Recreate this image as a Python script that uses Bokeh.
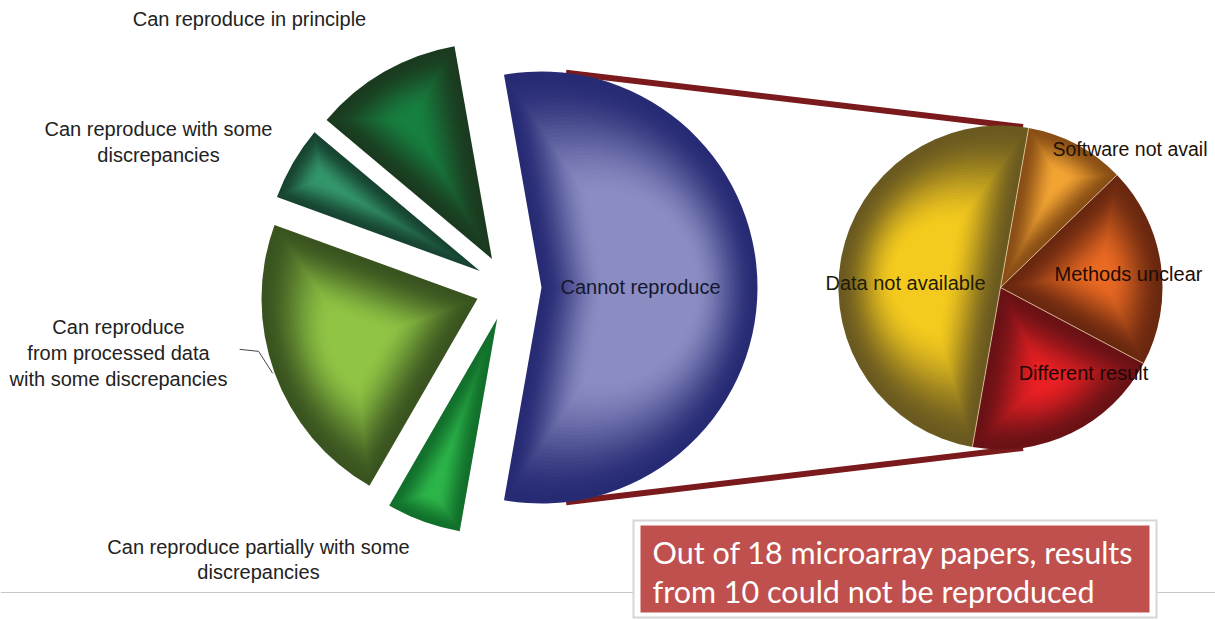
import numpy as np
from bokeh.plotting import figure
from bokeh.models import Label, BoxAnnotation, Span, ColumnDataSource, Range1d
from bokeh.embed import file_html
from bokeh.resources import INLINE

W, H = 1215, 620

# Outcome of the reproduction attempts (number of papers, 18 in total)
outcomes = [
    "Cannot reproduce",
    "Can reproduce in principle",
    "Can reproduce with some discrepancies",
    "Can reproduce from processed data with some discrepancies",
    "Can reproduce partially with some discrepancies",
]
outcome_counts = [10, 2, 1, 4, 1]
outcome_edge = ["#272b74", "#1b3b20", "#184532", "#3a5420", "#12702c"]
outcome_core = ["#8a8cc2", "#178040", "#33956a", "#8fc444", "#2db54a"]

# Why the 10 papers could not be reproduced
reasons = ["Software not available", "Data not available", "Different result", "Methods unclear"]
reason_counts = [1, 5, 2, 2]
reason_edge = ["#8a4f16", "#6b5a20", "#6a1216", "#6a2810"]
reason_core = ["#f2a433", "#f4ca1e", "#e82024", "#ea6a22"]

# layout (data units equal pixels)
L_CX, L_CY, L_R, L_EXPLODE, L_START = 508.0, 333.0, 216.0, 33.0, -100.0
R_CX, R_CY, R_R, R_START = 1000.0, 333.0, 162.0, 44.0


def angles(counts, start):
    total = float(sum(counts))
    spans = [360.0 * c / total for c in counts]
    a0 = start + np.concatenate([[0.0], np.cumsum(spans)[:-1]])
    return list(a0), list(a0 + np.array(spans))


def hex_rgb(h):
    h = h.lstrip("#")
    return np.array([int(h[i:i + 2], 16) for i in (0, 2, 4)], dtype=float)


def mix(c0, c1, f):
    c = hex_rgb(c0) * (1 - f) + hex_rgb(c1) * f
    return "#%02x%02x%02x" % tuple(int(round(v)) for v in c)


def pillow(cx, cy, radius, starts, ends, explode, edges, cores, depth, steps=34):
    """Nested wedges, each inset a little further, for a soft embossed fill."""
    cols = dict(x=[], y=[], r=[], a0=[], a1=[], color=[])
    for a0, a1, ce, cc in zip(starts, ends, edges, cores):
        mid = np.radians((a0 + a1) / 2)
        half = np.radians((a1 - a0) / 2)
        sh = max(np.sin(half), 0.05)
        t_max = radius / (1 + 1 / sh)
        d = min(depth, 0.9 * t_max)
        ux, uy = np.cos(mid), np.sin(mid)
        for k in range(steps):
            u = k / (steps - 1)
            t = d * u
            s = t / sh
            rr = radius - t - s
            if rr <= 0.5:
                break
            f = u * u * (3 - 2 * u)
            cols["x"].append(cx + (explode + s) * ux)
            cols["y"].append(cy + (explode + s) * uy)
            cols["r"].append(rr)
            cols["a0"].append(a0)
            cols["a1"].append(a1)
            cols["color"].append(mix(ce, cc, f))
    return ColumnDataSource(cols)


p = figure(width=W, height=H, x_range=Range1d(0, W), y_range=Range1d(0, H),
           output_backend="svg", toolbar_location=None, min_border=0,
           x_axis_location=None, y_axis_location=None)
p.grid.visible = False
p.outline_line_color = None
p.background_fill_color = "white"
p.border_fill_color = "white"

# thin rule under the caption
p.add_layout(Span(location=28, dimension="width", line_color="#c8c8c8", line_width=1.2))

l_a0, l_a1 = angles(outcome_counts, L_START)
r_a0, r_a1 = angles(reason_counts, R_START)

# connectors from the "Cannot reproduce" slice to the breakdown pie
bx = L_CX + L_EXPLODE * np.cos(np.radians((l_a0[0] + l_a1[0]) / 2))
by = L_CY + L_EXPLODE * np.sin(np.radians((l_a0[0] + l_a1[0]) / 2))
for sgn in (1, -1):
    x0 = bx + L_R * np.cos(np.radians(84)) + 2
    y0 = by + sgn * L_R * np.sin(np.radians(84))
    x1 = R_CX + R_R * np.cos(np.radians(82))
    y1 = R_CY + sgn * R_R * np.sin(np.radians(82))
    p.line([x0, x1], [y0, y1], line_color="#7a1a1c", line_width=6)

left_src = pillow(L_CX, L_CY, L_R, l_a0, l_a1, L_EXPLODE, outcome_edge, outcome_core, depth=62)
p.wedge(x="x", y="y", radius="r", start_angle="a0", end_angle="a1", start_angle_units="deg",
        end_angle_units="deg", fill_color="color", line_color=None, source=left_src)

right_src = pillow(R_CX, R_CY, R_R, r_a0, r_a1, 0.0, reason_edge, reason_core, depth=55)
p.wedge(x="x", y="y", radius="r", start_angle="a0", end_angle="a1", start_angle_units="deg",
        end_angle_units="deg", fill_color="color", line_color=None, source=right_src)

# light separators between the breakdown slices
p.ray(x=[R_CX] * len(r_a0), y=[R_CY] * len(r_a0), length=R_R, angle=r_a0, angle_units="deg",
      line_color="#f3dcb0", line_width=1, line_alpha=0.7)

# leader for the processed-data label
mid_p = np.radians((l_a0[3] + l_a1[3]) / 2)
ex = L_CX + (L_EXPLODE + L_R + 2) * np.cos(mid_p)
ey = L_CY + (L_EXPLODE + L_R + 2) * np.sin(mid_p)
p.line([ex - 33, ex - 14, ex], [ey + 24, ey + 22, ey], line_color="#444444", line_width=1)

FONT = "Liberation Sans"


def label(x, y, text, align="center", color="#222222", size="20px", font=FONT):
    p.add_layout(Label(x=x, y=H - y, text=text, text_align=align, text_baseline="middle",
                       text_color=color, text_font_size=size, text_font=font))


label(249, 18, "Can reproduce in principle")
label(158, 128, "Can reproduce with some")
label(158, 154, "discrepancies")
label(118, 326, "Can reproduce")
label(118, 352, "from processed data")
label(118, 378, "with some discrepancies")
label(258, 546, "Can reproduce partially with some")
label(258, 571, "discrepancies")

label(640, 286, "Cannot reproduce", color="#15172e")
label(905, 282, "Data not available", color="#1e1a08")
label(1052, 148, "Software not avail", align="left", color="#1e1208", size="19.5px")
label(1128, 273, "Methods unclear", color="#1e0c04")
label(1083, 372, "Different result", color="#1e0606")

# caption box
p.add_layout(BoxAnnotation(left=632, right=1157, bottom=H - 618, top=H - 519,
                           fill_color="#d6d6d6", fill_alpha=1, line_color=None))
p.add_layout(BoxAnnotation(left=634, right=1155, bottom=H - 616, top=H - 521,
                           fill_color="white", fill_alpha=1, line_color=None))
p.add_layout(BoxAnnotation(left=640, right=1149, bottom=H - 612, top=H - 525,
                           fill_color="#c0504d", fill_alpha=1, line_color=None))
label(652, 551, "Out of 18 microarray papers, results", align="left", color="white",
      size="30.5px", font="Lato")
label(652, 590, "from 10 could not be reproduced", align="left", color="white",
      size="30.5px", font="Lato")

open("out.html", "w").write(file_html(p, INLINE))
